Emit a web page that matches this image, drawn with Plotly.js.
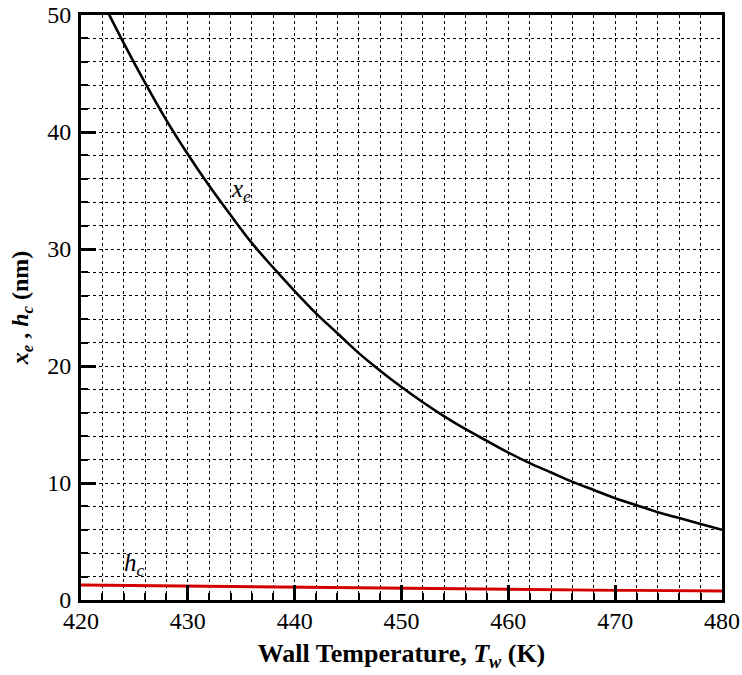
<!DOCTYPE html>
<html>
<head>
<meta charset="utf-8">
<script src="https://cdn.plot.ly/plotly-3.0.1.min.js"></script>
<style>html,body{margin:0;padding:0;background:#fff;}#chart{width:742px;height:675px;}</style>
</head>
<body>
<div id="chart"></div>
<script>
var wallTemp = [420,422,424,426,428,430,432,434,436,438,440,442,444,446,448,450,452,454,456,458,460,462,464,466,468,470,472,474,476,478,480];
var xe = [55.2,51.2,47.6,44.2,41.0,38.1,35.4,32.9,30.5,28.4,26.4,24.5,22.8,21.1,19.6,18.2,16.9,15.7,14.6,13.6,12.6,11.7,10.9,10.1,9.4,8.7,8.1,7.5,7.0,6.5,6.0];
var hc = [1.28,1.26,1.24,1.22,1.20,1.18,1.16,1.14,1.12,1.10,1.08,1.06,1.04,1.02,1.00,0.98,0.96,0.94,0.93,0.91,0.90,0.88,0.87,0.86,0.84,0.83,0.82,0.81,0.80,0.79,0.77];
var xTicks = [420,430,440,450,460,470,480];
var yTicks = [0,10,20,30,40,50];

var serif = "Liberation Serif";
var traces = [
  {x: wallTemp, y: xe, mode: "lines", line: {color: "#000000", width: 2.6, shape: "spline", smoothing: 1}, showlegend: false, hoverinfo: "skip"},
  {x: wallTemp, y: hc, mode: "lines", line: {color: "#d40000", width: 2.8}, showlegend: false, hoverinfo: "skip"}
];
var axisCommon = {
  showline: true, linecolor: "#000", linewidth: 3, mirror: true,
  ticks: "inside", ticklen: 15, tickwidth: 3, tickcolor: "#000",
  showgrid: true, gridcolor: "#000", griddash: "dot", gridwidth: 1,
  zeroline: false,
  tickfont: {family: serif, size: 24, color: "#000"},
  minor: {ticks: "inside", ticklen: 7, tickwidth: 2, tickcolor: "#000", showgrid: true, gridcolor: "#000", griddash: "dot", gridwidth: 1, dtick: 2}
};
var layout = {
  width: 742, height: 675,
  font: {family: serif},
  margin: {l: 81, r: 20, t: 15, b: 75},
  paper_bgcolor: "#fff", plot_bgcolor: "#fff",
  xaxis: Object.assign({}, axisCommon, {
    range: [420, 480], tickvals: xTicks, ticktext: xTicks.map(String),
    ticklabelstandoff: -3,
    title: {text: "<b>Wall Temperature, <i>T</i><sub><i>w</i></sub> (K)</b>", font: {family: serif, size: 26, color: "#000"}, standoff: 12}
  }),
  yaxis: Object.assign({}, axisCommon, {
    range: [0, 50], tickvals: yTicks, ticktext: yTicks.map(String),
    ticklabelstandoff: 2,
    title: {text: "<b><i>x</i><sub><i>e</i></sub> , <i>h</i><sub><i>c</i></sub> (nm)</b>", font: {family: serif, size: 24, color: "#000"}, standoff: 12}
  }),
  annotations: [
    {x: 435, y: 35, xref: "x", yref: "y", text: "<i>x</i><sub><i>e</i></sub>", showarrow: false, font: {family: serif, size: 25, color: "#000"}, xanchor: "center", yanchor: "middle"},
    {x: 425, y: 3.0, xref: "x", yref: "y", text: "<i>h</i><sub><i>c</i></sub>", showarrow: false, font: {family: serif, size: 25, color: "#000"}, xanchor: "center", yanchor: "middle"}
  ]
};
Plotly.newPlot("chart", traces, layout, {displayModeBar: false, staticPlot: true});
</script>
</body>
</html>
